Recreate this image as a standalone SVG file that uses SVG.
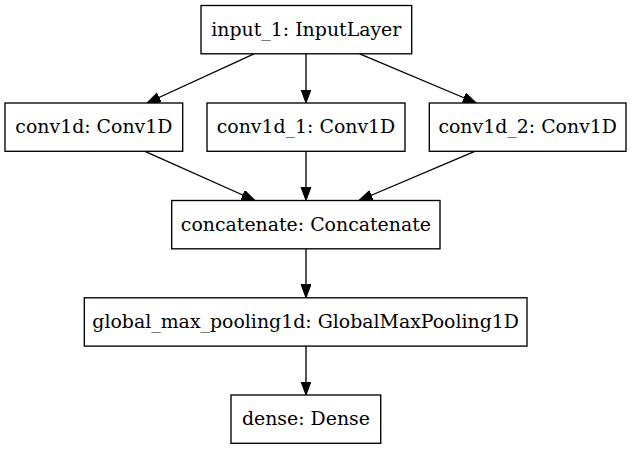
<svg xmlns="http://www.w3.org/2000/svg" width="633" height="449" viewBox="0 0 633 449">
<style>
  .box { fill: #ffffff; stroke: #000000; stroke-width: 1.35; }
  .lbl { font-family: "DejaVu Serif", serif; font-size: 18.9px; fill: #000000; text-anchor: middle; }
  .edge { stroke: #000000; stroke-width: 1.35; fill: none; marker-end: url(#arrow); }
</style>
<defs>
  <marker id="arrow" markerUnits="userSpaceOnUse" markerWidth="15" markerHeight="12" refX="13.5" refY="5" orient="auto">
    <path d="M0,0 L13.5,5 L0,10 Z" fill="#000000" stroke="#000000" stroke-width="1"/>
  </marker>
</defs>
<rect width="633" height="449" fill="#ffffff"/>
<g id="connectors">
  <line class="edge" x1="254" y1="53.8" x2="147" y2="103"/>
  <line class="edge" x1="306" y1="53.8" x2="306" y2="103"/>
  <line class="edge" x1="359.7" y1="53.8" x2="476.3" y2="103"/>
  <line class="edge" x1="145" y1="151.3" x2="255" y2="200.5"/>
  <line class="edge" x1="306" y1="151.3" x2="306" y2="200.5"/>
  <line class="edge" x1="474.7" y1="151.3" x2="359" y2="200.5"/>
  <line class="edge" x1="306" y1="248.8" x2="306" y2="297.8"/>
  <line class="edge" x1="306" y1="346.1" x2="306" y2="395"/>
</g>
<g id="input_1">
  <rect class="box" x="201" y="5.5" width="210.7" height="48.3"/>
  <text class="lbl" x="306.3" y="35.6">input_1: InputLayer</text>
</g>
<g id="conv1d">
  <rect class="box" x="5" y="103" width="177.7" height="48.3"/>
  <text class="lbl" x="93.9" y="133.1">conv1d: Conv1D</text>
</g>
<g id="conv1d_1">
  <rect class="box" x="207" y="103" width="198" height="48.3"/>
  <text class="lbl" x="306" y="133.1">conv1d_1: Conv1D</text>
</g>
<g id="conv1d_2">
  <rect class="box" x="429.3" y="103" width="196.7" height="48.3"/>
  <text class="lbl" x="527.7" y="133.1">conv1d_2: Conv1D</text>
</g>
<g id="concatenate">
  <rect class="box" x="171.7" y="200.5" width="268.3" height="48.3"/>
  <text class="lbl" x="305.9" y="230.6">concatenate: Concatenate</text>
</g>
<g id="global_max_pooling1d">
  <rect class="box" x="84.3" y="297.8" width="442.7" height="48.3"/>
  <text class="lbl" x="305.7" y="327.9">global_max_pooling1d: GlobalMaxPooling1D</text>
</g>
<g id="dense">
  <rect class="box" x="231" y="395" width="149.7" height="48.3"/>
  <text class="lbl" x="305.9" y="425.1">dense: Dense</text>
</g>
</svg>
